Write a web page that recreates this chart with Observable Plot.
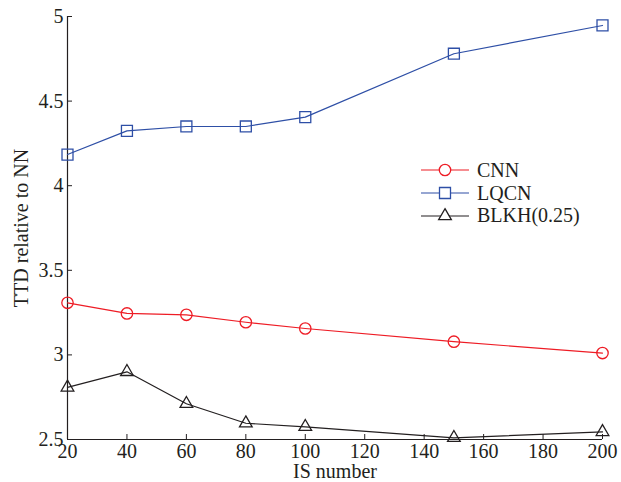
<!DOCTYPE html>
<html>
<head>
<meta charset="utf-8">
<script src="https://cdn.jsdelivr.net/npm/d3@7"></script>
<script src="https://cdn.jsdelivr.net/npm/@observablehq/plot@0.6"></script>
<style>
  html, body { margin: 0; padding: 0; background: #fff; }
  #wrap { position: relative; width: 621px; height: 482px; }
  #legend { position: absolute; left: 421px; top: 159px; font-family: "Liberation Serif", serif; font-size: 20px; color: #231f20; line-height: 23px; }
  .row { display: flex; align-items: center; height: 22.7px; }
  .row svg { display: block; margin-right: 8px; }
</style>
</head>
<body>
<div id="wrap"><div id="legend"></div></div>
<script>
const isNumber = [20, 40, 60, 80, 100, 150, 200];
const cnn  = [3.308, 3.245, 3.237, 3.193, 3.156, 3.078, 3.011];
const lqcn = [4.184, 4.324, 4.350, 4.350, 4.405, 4.780, 4.947];
const blkh = [2.808, 2.900, 2.711, 2.596, 2.575, 2.510, 2.545];
const seriesNames = ["CNN", "LQCN", "BLKH(0.25)"];
const seriesColors = ["#ee1c25", "#2e4fa6", "#231f20"];
const seriesSymbols = ["circle", "square", "triangle"];
const xTicks = [20, 40, 60, 80, 100, 120, 140, 160, 180, 200];
const yTicks = [2.5, 3, 3.5, 4, 4.5, 5];

const allValues = [cnn, lqcn, blkh];
const rows = [];
seriesNames.forEach((name, i) => {
  isNumber.forEach((x, j) => rows.push({series: name, x, y: allValues[i][j]}));
});

const fontFamily = "'Liberation Serif', serif";
const marks = [
  Plot.ruleX([20], {stroke: "#231f20", strokeWidth: 1.2}),
  Plot.ruleY([2.5], {stroke: "#231f20", strokeWidth: 1.2}),
  Plot.axisX({ticks: xTicks, tickSize: -5, tickPadding: 9, fontSize: 20,
    label: "IS number", labelAnchor: "center", labelOffset: 38, labelArrow: "none"}),
  Plot.axisY({ticks: yTicks, tickSize: -5, tickPadding: 9, fontSize: 20, tickFormat: d3.format("~g"),
    label: "TTD relative to NN", labelAnchor: "center", labelOffset: 54, labelArrow: "none"})
];
seriesNames.forEach((name, i) => {
  const d = rows.filter(r => r.series === name);
  marks.push(Plot.line(d, {x: "x", y: "y", stroke: seriesColors[i], strokeWidth: 1.2}));
  marks.push(Plot.dot(d, {x: "x", y: "y", stroke: seriesColors[i], fill: "none", strokeWidth: 1.3,
    symbol: seriesSymbols[i], r: i === 0 ? 5.7 : i === 1 ? 6.2 : 4.7}));
});

const chart = Plot.plot({
  width: 621, height: 482,
  marginLeft: 67, marginRight: 19, marginTop: 16, marginBottom: 43,
  style: {fontFamily, fontSize: "20px", color: "#231f20", background: "#fff", overflow: "visible"},
  x: {domain: [20, 200]},
  y: {domain: [2.5, 5]},
  marks
});
document.getElementById("wrap").prepend(chart);

// legend
const legend = d3.select("#legend");
seriesNames.forEach((name, i) => {
  const row = legend.append("div").attr("class", "row");
  const s = row.append("svg").attr("width", 48).attr("height", 22);
  s.append("line").attr("x1", 0).attr("x2", 48).attr("y1", 11).attr("y2", 11)
    .attr("stroke", seriesColors[i]).attr("stroke-width", 1.2);
  const sym = {circle: d3.symbolCircle, square: d3.symbolSquare, triangle: d3.symbolTriangle}[seriesSymbols[i]];
  const r = i === 0 ? 5.7 : i === 1 ? 6.2 : 4.7;
  s.append("path").attr("transform", "translate(24,11)")
    .attr("d", d3.symbol(sym, Math.PI * r * r)())
    .attr("fill", "#fff").attr("stroke", seriesColors[i]).attr("stroke-width", 1.3);
  row.append("span").text(name);
});
</script>
</body>
</html>
